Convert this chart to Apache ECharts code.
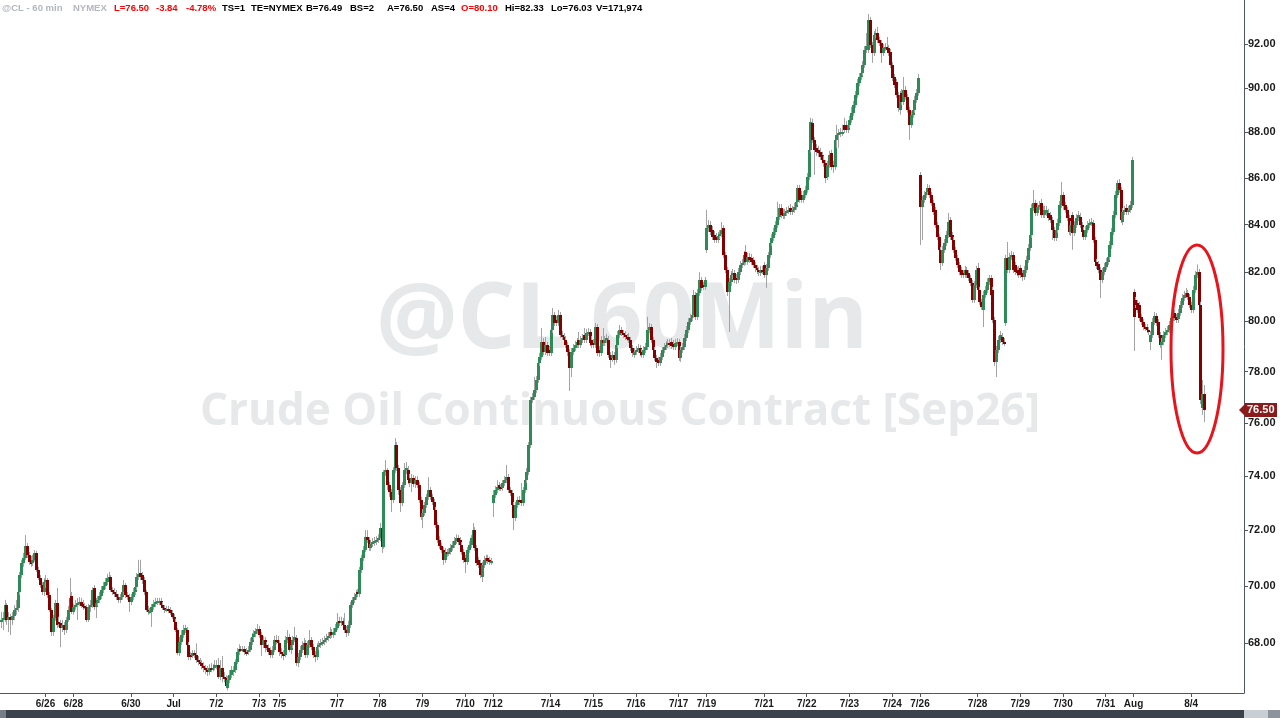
<!DOCTYPE html>
<html><head><meta charset="utf-8">
<script src="https://cdn.jsdelivr.net/npm/echarts@6/dist/echarts.min.js"></script>
<style>html,body{margin:0;padding:0;background:#fff;overflow:hidden}#c{width:1280px;height:718px}</style>
</head><body><div id="c"></div>
<script>
// ---- data (60-min bars of @CL) ----
const sessionDates  = ["6/24","6/25","6/26","6/28","6/29","6/30","7/1","7/2","7/3","7/5","7/6","7/7","7/8","7/9","7/10","7/12","7/13","7/14","7/15","7/16","7/17","7/19","7/20","7/21","7/22","7/23","7/24","7/26","7/27","7/28","7/29","7/30","7/31","8/2","8/3","8/4"];
const sessionBars   = [1,23,15,8,23,23,23,23,11,8,23,23,23,23,15,8,23,23,23,23,15,8,23,23,23,23,15,8,23,23,23,23,15,8,23,8];
const sessionLabels = ["","","6/26","6/28","","6/30","Jul","7/2","7/3","7/5","","7/7","7/8","7/9","7/10","7/12","","7/14","7/15","7/16","7/17","7/19","","7/21","7/22","7/23","7/24","7/26","","7/28","7/29","7/30","7/31","Aug","","8/4"];
const totalSlots = 670;
const yTicks = [68,70,72,74,76,78,80,82,84,86,88,90,92];
const yRange = [66.32, 94.08];

const O = [68.74,68.81,68.88,69.33,68.81,68.92,68.81,68.95,69.16,69.23,
69.79,70.39,70.82,71.00,71.43,71.11,70.86,70.82,70.93,71.18,
70.57,70.28,70.03,69.79,70.14,70.21,69.68,69.16,68.39,68.88,
69.40,68.74,68.71,68.53,68.64,68.46,68.81,69.16,69.65,69.09,
69.26,69.33,69.40,69.44,69.37,69.30,69.26,68.81,69.26,69.33,
69.93,69.26,69.40,69.51,69.65,69.86,70.00,70.14,70.28,70.32,
69.86,69.79,69.72,69.61,69.51,69.61,69.79,70.03,69.68,69.61,
69.44,69.61,69.79,69.96,70.32,70.46,70.39,70.21,69.79,69.16,
69.09,69.09,69.26,69.37,69.44,69.46,69.47,69.33,69.23,69.16,
69.19,69.16,69.05,68.92,68.74,68.46,67.67,68.05,68.29,68.46,
68.46,67.94,67.60,67.57,67.67,67.60,67.43,67.36,67.33,67.23,
67.16,67.09,67.02,67.16,67.14,67.16,67.26,67.26,66.85,67.16,
66.85,66.82,66.48,66.75,66.92,67.09,67.10,67.36,67.70,67.80,
67.77,67.80,67.70,67.69,67.77,68.05,68.22,68.33,68.43,68.50,
68.29,67.94,68.12,67.94,67.84,67.77,67.60,67.77,68.12,68.11,
68.01,67.70,67.63,67.60,68.12,68.22,67.77,67.94,68.12,68.19,
67.33,67.53,67.77,67.94,68.01,67.60,67.94,68.12,67.87,67.60,
67.53,67.87,67.94,68.01,68.05,68.12,68.19,68.26,68.39,68.29,
68.39,68.53,68.78,68.71,68.78,68.64,68.46,68.36,68.64,69.33,
69.51,69.61,69.79,69.72,70.57,71.00,71.28,71.75,71.64,71.35,
71.50,71.57,71.60,71.64,71.71,72.07,71.39,74.14,74.22,73.66,
73.40,73.11,74.22,75.16,74.29,73.47,72.99,73.66,74.22,74.22,
73.92,73.73,73.92,73.69,73.84,73.66,73.11,72.48,72.63,72.92,
73.22,73.47,73.22,73.03,72.74,72.18,71.64,71.43,71.28,70.93,
71.21,71.14,71.21,71.35,71.46,71.60,71.71,71.64,71.46,71.21,
71.00,70.86,71.28,71.46,71.71,72.00,71.35,70.93,70.82,70.32,
70.75,70.93,71.00,70.93,70.86,72.99,73.29,73.47,73.66,73.58,
73.55,73.73,73.84,73.95,73.47,73.36,72.92,72.44,72.92,73.11,
73.11,72.99,73.47,73.84,74.14,75.16,76.89,77.01,77.28,77.67,
78.34,78.58,79.17,78.77,79.05,78.85,78.73,79.65,80.26,80.05,
79.93,80.26,79.45,79.37,79.25,79.05,78.77,78.14,78.77,78.93,
79.05,79.25,79.05,79.25,79.45,79.25,79.53,79.57,79.25,79.13,
79.05,79.77,78.85,78.73,79.25,79.13,79.25,79.25,78.65,78.54,
78.65,78.46,79.05,79.45,79.65,79.53,79.45,79.37,79.37,79.25,
78.93,78.65,78.77,78.85,78.93,78.77,78.65,78.85,78.97,79.65,
79.77,79.25,78.85,78.54,78.46,78.34,78.58,78.85,78.97,79.05,
79.13,79.17,79.09,78.97,79.13,79.17,78.54,78.85,78.97,79.33,
79.65,79.97,80.13,80.26,81.07,80.18,81.15,81.69,81.48,81.40,
82.94,83.86,83.98,83.77,83.56,83.48,83.35,83.52,83.60,83.86,
82.73,82.10,81.19,81.60,81.89,81.97,81.77,81.69,82.01,82.31,
82.39,82.85,82.43,82.64,82.60,82.52,82.31,82.18,82.10,81.97,
82.10,82.31,81.89,82.18,82.73,83.23,83.44,83.69,83.98,84.32,
84.71,84.50,84.37,84.50,84.58,84.71,84.54,84.63,84.75,84.97,
85.57,85.27,85.06,85.27,85.48,86.04,87.23,88.43,87.67,87.32,
87.23,87.14,87.01,86.79,86.66,86.04,86.57,87.10,86.57,86.48,
87.67,87.89,87.97,87.97,88.34,88.34,88.11,88.34,88.56,88.88,
89.23,89.68,90.22,90.50,90.68,91.05,91.74,91.74,93.14,91.97,
91.60,92.44,92.53,92.20,92.06,91.60,91.83,91.88,91.83,91.65,
91.05,90.50,90.27,89.68,89.01,89.77,89.37,89.91,89.59,89.01,
88.34,88.79,89.01,89.46,89.77,86.13,84.76,85.06,85.27,85.40,
85.57,85.27,84.93,84.63,83.98,83.48,82.94,82.39,82.94,83.23,
83.56,84.20,83.56,83.35,82.94,82.60,82.31,82.10,81.97,81.89,
82.10,81.97,81.77,81.56,80.87,81.48,82.18,81.28,80.79,80.46,
81.07,81.28,81.60,81.77,81.28,80.05,78.38,78.85,79.25,79.37,
79.17,79.93,82.60,82.10,82.64,82.73,82.31,82.10,82.10,82.18,
81.97,81.81,82.10,82.52,83.02,83.56,84.71,84.93,84.50,84.75,
84.93,84.63,84.41,84.50,84.50,84.41,84.20,83.77,83.44,83.77,
84.07,84.84,85.27,84.84,84.63,84.28,83.69,84.41,83.65,83.98,
84.28,84.32,83.98,83.77,83.48,83.77,83.98,84.07,84.07,83.35,
82.43,82.35,82.10,81.69,82.01,82.23,82.43,82.64,83.14,83.69,
84.41,85.27,85.78,85.48,84.11,84.54,84.71,84.54,84.63,84.84,
81.19,80.87,80.75,80.67,80.18,79.97,79.77,79.77,79.65,79.17,
79.45,79.97,80.22,79.97,79.45,79.05,79.17,79.45,79.57,79.65,
79.85,80.13,80.34,80.18,80.10,80.34,80.67,80.95,81.07,81.15,
80.99,80.67,80.46,81.28,81.89,82.01,80.67,76.58,77.12];

const C = [68.81,68.88,69.33,68.81,68.92,68.81,68.95,69.16,69.23,69.79,
70.39,70.82,71.00,71.43,71.11,70.86,70.82,70.93,71.18,70.57,
70.28,70.03,69.79,70.14,70.21,69.68,69.16,68.39,68.88,69.40,
68.64,68.71,68.53,68.64,68.46,68.81,69.16,69.58,69.09,69.26,
69.33,69.40,69.44,69.30,69.26,69.26,68.81,69.26,69.33,69.86,
69.26,69.40,69.51,69.65,69.86,70.00,70.14,70.28,70.32,69.86,
69.79,69.72,69.61,69.51,69.61,69.79,70.03,69.68,69.61,69.44,
69.61,69.79,69.96,70.32,70.43,70.32,70.21,69.79,69.16,69.09,
69.12,69.26,69.37,69.44,69.46,69.47,69.33,69.23,69.16,69.19,
69.16,69.05,68.92,68.74,68.46,67.67,68.05,68.29,68.46,68.53,
67.94,67.53,67.57,67.67,67.60,67.43,67.36,67.33,67.23,67.16,
67.09,67.02,67.16,67.14,67.16,67.26,67.27,66.85,67.16,66.85,
66.82,66.55,66.75,66.92,67.09,67.10,67.36,67.70,67.80,67.77,
67.80,67.70,67.69,67.77,68.05,68.22,68.33,68.43,68.50,68.29,
67.94,68.12,67.84,67.84,67.70,67.60,67.77,68.12,68.11,68.01,
67.70,67.63,67.60,68.12,68.22,67.77,67.94,68.12,68.22,67.33,
67.53,67.77,67.94,68.01,67.60,67.94,68.12,67.87,67.60,67.53,
67.87,67.94,68.01,68.05,68.12,68.19,68.26,68.39,68.29,68.39,
68.53,68.74,68.71,68.78,68.64,68.46,68.36,68.64,69.33,69.51,
69.61,69.72,69.72,70.57,71.00,71.28,71.75,71.64,71.35,71.50,
71.57,71.60,71.64,71.71,72.07,71.39,74.14,74.22,73.66,73.40,
73.11,74.22,75.16,74.29,73.47,72.99,73.66,74.22,74.29,73.84,
73.73,73.92,73.69,73.84,73.66,73.11,72.48,72.63,72.92,73.22,
73.47,73.22,73.03,72.74,72.18,71.64,71.43,71.28,70.93,71.21,
71.14,71.21,71.35,71.46,71.60,71.71,71.57,71.46,71.21,70.93,
70.86,71.28,71.46,71.71,72.00,71.35,70.82,70.75,70.39,70.75,
70.93,71.00,70.89,70.86,70.89,73.29,73.47,73.58,73.55,73.55,
73.73,73.84,73.95,73.47,73.36,72.92,72.44,72.92,73.11,73.03,
72.99,73.47,73.84,74.14,75.16,76.89,77.01,77.28,77.67,78.34,
78.58,79.17,78.77,79.05,78.73,78.73,79.65,80.26,79.93,79.93,
80.26,79.45,79.37,79.25,79.05,78.77,78.14,78.77,78.93,79.05,
79.17,79.05,79.25,79.33,79.25,79.53,79.57,79.13,79.05,79.05,
79.77,78.73,78.73,79.25,79.13,79.25,79.33,78.65,78.46,78.65,
78.46,79.05,79.45,79.65,79.53,79.45,79.37,79.33,79.25,78.93,
78.73,78.77,78.85,78.93,78.73,78.65,78.85,78.97,79.65,79.77,
79.25,78.85,78.54,78.38,78.34,78.58,78.85,78.97,79.05,79.13,
79.12,79.01,78.97,79.13,79.17,78.54,78.85,78.97,79.33,79.65,
79.97,80.13,80.26,81.07,80.18,81.15,81.69,81.36,81.40,81.69,
83.86,83.98,83.69,83.48,83.35,83.35,83.52,83.60,83.77,82.73,
82.10,81.19,81.60,81.89,81.97,81.69,81.69,82.01,82.31,82.39,
82.73,82.43,82.64,82.52,82.43,82.31,82.18,82.10,82.01,82.10,
82.09,81.89,82.18,82.73,83.23,83.44,83.69,83.98,84.32,84.71,
84.41,84.37,84.50,84.58,84.63,84.54,84.63,84.75,84.97,85.57,
85.06,85.06,85.27,85.48,86.04,87.23,88.47,87.67,87.23,87.14,
87.10,86.92,86.79,86.66,86.00,86.57,87.01,86.48,86.48,87.67,
87.89,87.97,88.02,88.02,88.11,88.11,88.34,88.56,88.88,89.23,
89.68,90.22,90.50,90.68,91.05,91.74,91.92,93.14,91.97,91.60,
92.44,92.53,92.20,92.06,91.60,91.83,91.88,91.74,91.60,91.05,
90.45,90.13,89.68,89.10,89.68,89.37,89.91,89.59,89.01,88.34,
88.79,89.01,89.46,89.77,90.45,84.76,85.06,85.27,85.40,85.57,
85.27,84.93,84.54,83.98,83.48,82.94,82.39,82.94,83.23,83.56,
84.11,83.48,83.35,82.94,82.60,82.31,82.01,81.89,81.89,82.10,
81.89,81.77,81.56,80.87,81.48,82.10,81.28,80.79,80.58,81.07,
81.28,81.60,81.77,81.07,80.05,78.38,78.85,79.25,79.45,79.17,
79.16,82.60,82.10,82.64,82.73,82.10,82.01,81.97,81.89,81.89,
81.81,82.10,82.52,83.02,83.56,84.71,84.93,84.50,84.75,84.84,
84.41,84.41,84.63,84.63,84.28,84.20,83.77,83.44,83.77,84.07,
84.84,85.27,84.80,84.63,84.28,83.69,83.98,83.65,83.98,84.28,
84.41,83.98,83.69,83.48,83.77,83.98,84.07,84.11,83.35,82.43,
82.27,82.10,81.69,82.01,82.23,82.43,82.64,83.14,83.69,84.41,
85.27,85.78,85.48,84.20,84.54,84.63,84.54,84.63,84.84,86.79,
80.18,80.67,80.46,80.13,79.97,79.77,79.73,79.65,79.57,79.45,
79.97,80.22,79.93,79.45,79.05,79.17,79.45,79.57,79.65,79.85,
80.13,80.30,80.13,80.05,80.34,80.67,80.95,81.07,81.15,80.99,
80.67,80.46,81.28,81.89,82.01,80.67,76.89,77.12,76.50];

const H = [69.09,69.09,69.51,69.40,69.09,69.02,69.09,69.33,69.51,69.86,
70.50,70.93,71.18,71.82,71.53,71.21,71.07,71.11,71.28,71.25,
70.68,70.39,70.14,70.28,70.39,70.28,69.79,69.23,68.99,69.51,
69.93,68.92,68.81,68.81,68.74,68.92,69.30,70.28,69.79,69.37,
69.51,69.58,69.61,69.58,69.51,69.40,69.33,69.37,69.51,69.96,
70.03,69.58,69.65,69.79,70.00,70.14,70.28,70.43,70.50,70.39,
69.96,69.93,69.86,69.72,69.72,69.93,70.21,70.10,69.79,69.72,
69.72,69.93,70.10,70.46,70.93,70.93,70.50,70.32,69.86,69.30,
69.23,69.37,69.51,69.58,69.58,69.58,69.58,69.44,69.33,69.30,
69.30,69.26,69.16,69.02,68.85,68.53,68.22,68.46,68.64,68.64,
68.57,68.05,67.70,67.77,67.77,68.00,67.57,67.50,67.43,67.36,
67.26,67.23,67.29,67.33,67.29,67.43,67.43,67.50,67.43,67.57,
67.02,66.92,66.89,67.09,67.23,67.23,67.46,67.84,67.97,67.91,
67.91,67.91,67.84,67.91,68.19,68.36,68.46,68.53,68.67,68.60,
68.39,68.26,68.22,68.05,67.97,67.87,67.91,68.26,68.29,68.26,
68.12,67.84,67.77,68.26,68.46,68.33,68.05,68.26,68.57,68.29,
67.67,67.91,68.08,68.19,68.12,68.08,68.46,68.22,67.97,67.74,
68.01,68.08,68.15,68.19,68.26,68.33,68.39,68.57,68.50,68.53,
68.67,69.05,68.92,68.92,68.88,69.05,68.60,68.78,69.44,69.61,
69.75,69.86,69.89,70.68,71.11,71.43,72.00,72.00,71.75,71.64,
71.71,71.75,71.78,71.85,72.26,72.18,74.22,74.59,74.29,73.77,
73.51,74.33,75.42,75.27,74.41,73.58,73.77,74.48,74.52,74.37,
74.07,74.07,74.03,73.99,73.99,73.77,73.22,72.77,73.03,73.33,
73.95,73.58,73.33,73.14,72.85,72.29,71.78,71.53,71.39,71.35,
71.32,71.35,71.50,71.60,71.75,71.85,71.82,71.75,71.57,71.32,
71.11,71.39,71.60,71.82,72.26,72.11,71.46,71.04,70.93,70.86,
71.07,71.11,71.11,71.04,71.00,73.47,73.62,73.84,73.77,73.69,
73.84,73.99,74.41,74.07,73.58,73.47,73.03,73.03,73.22,73.25,
73.73,73.58,73.95,74.29,75.27,77.01,77.16,77.79,77.82,78.46,
78.73,79.73,79.33,79.37,79.17,79.01,79.77,80.54,80.38,80.22,
80.46,80.38,79.61,79.53,79.41,79.17,78.89,78.93,79.09,79.21,
79.33,79.57,79.41,79.49,79.73,79.69,79.73,79.69,79.41,79.29,
79.93,79.89,79.01,79.41,79.73,79.41,79.49,79.41,78.77,78.81,
78.77,79.17,79.61,79.85,79.77,79.65,79.61,79.49,79.53,79.37,
79.05,78.93,79.01,79.09,79.05,78.89,79.01,79.13,80.18,79.93,
79.89,79.37,78.97,78.65,78.58,78.73,78.97,79.13,79.21,79.29,
79.29,79.33,79.25,79.29,79.33,79.29,79.01,79.13,79.49,79.81,
80.13,80.30,80.42,81.28,81.19,81.32,82.01,81.81,81.60,81.81,
84.63,84.20,84.15,83.94,83.73,83.65,83.69,83.77,84.11,83.98,
82.85,82.23,81.77,82.06,82.14,82.10,81.93,82.18,82.48,82.56,
82.89,83.14,82.81,82.81,82.77,82.64,82.43,82.31,82.23,82.27,
82.27,82.43,82.35,82.85,83.35,83.60,83.86,84.15,84.97,84.88,
84.88,84.67,84.67,84.75,84.80,84.88,84.80,84.93,85.14,85.70,
85.70,85.44,85.44,85.66,86.22,87.41,88.65,88.61,87.80,87.49,
87.41,87.32,87.14,86.97,86.79,86.75,87.19,87.23,86.75,87.80,
88.34,88.15,88.20,88.34,88.65,88.52,88.52,88.74,89.14,89.41,
89.86,90.41,90.68,90.87,91.23,91.92,92.53,93.42,93.28,92.11,
92.62,92.72,92.81,92.34,92.20,92.01,92.06,92.34,91.97,91.78,
91.19,90.64,90.41,89.82,89.86,89.95,90.50,90.08,89.73,89.14,
88.97,89.19,89.64,89.95,90.64,86.26,85.23,85.44,85.57,85.74,
85.70,85.40,85.06,84.75,84.11,83.60,83.06,83.10,83.39,83.73,
84.50,84.32,83.69,83.48,83.06,82.73,82.43,82.23,82.10,82.27,
82.23,82.10,81.89,81.69,81.65,82.27,82.39,81.40,80.91,81.24,
81.44,81.77,81.89,81.89,81.40,80.18,79.01,79.41,79.61,79.53,
79.33,82.73,83.27,82.81,82.89,82.85,82.43,82.23,82.27,82.31,
82.10,82.27,82.69,83.18,83.73,84.88,85.48,85.06,84.93,85.01,
85.10,84.80,84.80,84.80,84.67,84.54,84.32,83.90,83.94,84.24,
85.01,85.83,85.40,84.97,84.75,84.41,84.15,84.54,84.15,84.45,
84.58,84.50,84.11,83.90,83.94,84.15,84.24,84.28,84.20,83.48,
82.56,82.48,82.23,82.18,82.39,82.60,82.81,83.31,83.86,84.58,
85.44,85.91,85.95,85.61,84.71,84.80,84.88,84.80,85.01,86.92,
81.32,80.99,80.87,80.79,80.30,80.09,79.89,79.89,79.77,79.61,
80.13,80.38,80.34,80.09,79.57,79.33,79.61,79.73,79.81,80.01,
80.30,80.75,80.46,80.30,80.50,80.83,81.11,81.24,81.36,81.28,
81.11,80.79,81.44,82.06,82.33,82.14,80.79,77.67,77.47];

const L = [68.53,68.46,68.74,68.64,68.39,68.29,68.64,68.81,68.99,69.09,
69.68,70.28,70.68,70.93,71.00,70.75,70.68,70.71,70.86,70.50,
70.21,69.93,69.68,69.65,69.93,69.58,69.09,68.26,68.26,68.78,
68.53,68.57,67.87,68.39,68.29,68.36,68.74,69.09,69.02,68.99,
69.16,68.81,69.30,69.23,69.16,69.19,68.74,68.74,69.09,69.23,
69.16,68.88,69.30,69.40,69.54,69.75,69.89,70.03,70.18,69.79,
69.68,69.61,69.51,69.40,69.40,69.51,69.68,69.58,69.51,69.09,
69.33,69.51,69.68,69.86,70.21,70.21,70.07,69.68,69.09,68.99,
69.02,68.57,69.16,69.26,69.33,69.33,69.26,69.16,69.05,69.09,
69.05,68.99,68.85,68.67,68.39,67.60,67.57,67.94,68.19,68.36,
67.84,67.43,67.43,67.50,67.50,67.33,67.26,67.23,67.12,67.02,
66.95,66.89,66.92,67.02,67.05,67.09,67.12,66.79,66.75,66.68,
66.68,66.48,66.41,66.65,66.82,66.89,66.99,67.29,67.60,67.70,
67.70,67.60,67.57,67.60,67.70,67.94,68.12,68.22,68.33,68.19,
67.57,67.84,67.70,67.77,67.60,67.50,67.50,67.70,67.97,67.91,
67.57,67.50,67.43,67.53,68.01,67.70,67.63,67.84,68.05,67.23,
67.19,67.43,67.67,67.84,67.50,67.50,67.84,67.77,67.50,67.36,
67.43,67.77,67.84,67.91,67.94,68.01,68.08,68.15,68.19,68.19,
68.29,68.46,68.60,68.60,68.53,68.36,68.22,68.26,68.53,69.23,
69.40,69.51,69.61,69.61,70.46,70.89,71.21,71.53,71.25,71.25,
71.39,71.43,71.46,71.53,71.60,71.18,71.32,74.00,73.47,73.22,
72.66,72.99,74.11,74.18,73.29,72.66,72.88,73.55,74.07,73.69,
73.58,73.40,73.58,73.55,73.55,72.99,72.37,72.07,72.52,72.81,
73.11,73.11,72.92,72.63,72.07,71.53,71.32,71.18,70.75,70.82,
71.04,71.07,71.11,71.25,71.35,71.50,71.46,71.35,71.11,70.82,
70.46,70.75,71.18,71.35,71.60,71.25,70.71,70.64,70.28,70.14,
70.64,70.82,70.78,70.75,70.75,72.48,73.18,73.36,73.44,73.44,
73.44,73.62,73.73,73.36,73.25,72.81,72.00,72.33,72.81,72.92,
72.88,72.88,73.36,73.73,74.03,75.04,76.77,76.89,77.16,77.55,
78.22,78.46,78.65,78.65,78.61,78.61,78.61,79.53,79.81,79.81,
79.81,79.33,79.25,79.13,78.93,78.61,77.24,77.78,78.65,78.81,
78.93,78.93,78.93,79.13,79.13,79.13,79.41,79.01,78.93,78.93,
78.93,78.61,78.58,78.61,79.01,79.01,79.13,78.54,78.14,78.38,
78.26,78.34,78.93,79.33,79.41,79.33,79.25,79.21,79.13,78.81,
78.58,78.54,78.65,78.73,78.61,78.54,78.54,78.73,78.85,79.53,
79.13,78.73,78.42,78.14,78.22,78.22,78.46,78.73,78.85,78.93,
78.97,78.89,78.85,78.85,79.01,78.42,78.38,78.73,78.85,79.21,
79.53,79.85,80.01,80.13,80.05,80.05,81.03,81.24,81.28,81.28,
82.81,83.69,83.56,83.35,83.23,83.23,83.23,83.39,83.48,82.60,
81.97,81.03,79.57,81.44,81.73,81.56,81.52,81.56,81.89,82.18,
82.27,82.31,82.31,82.39,82.31,82.18,82.01,81.93,81.85,81.85,
81.93,81.77,81.36,82.06,82.60,83.10,83.31,83.56,83.86,84.20,
84.28,84.24,84.24,84.37,84.45,84.41,84.41,84.50,84.63,84.84,
84.93,84.93,84.93,85.14,85.36,85.91,87.10,87.54,86.13,86.97,
86.92,86.79,86.66,86.48,85.78,85.91,86.44,86.35,86.22,86.35,
87.32,87.32,87.80,87.84,87.97,87.97,87.97,88.20,88.43,88.74,
89.10,89.55,90.08,90.36,90.55,90.91,91.60,91.60,91.83,91.14,
91.46,92.29,92.06,91.92,91.14,91.46,91.69,91.60,91.46,90.91,
90.31,89.99,89.55,88.92,88.79,89.23,89.23,89.46,88.88,87.67,
88.20,88.65,88.88,89.32,89.64,83.14,83.35,84.93,85.14,85.27,
85.14,84.80,84.41,83.86,83.35,82.81,82.10,82.27,82.81,83.10,
83.44,83.35,83.23,82.81,82.48,82.18,81.89,81.77,81.77,81.77,
81.77,81.65,81.44,80.75,80.75,81.36,81.15,80.67,80.46,79.77,
80.95,81.15,81.48,80.95,79.93,78.22,77.78,78.73,79.13,79.05,
79.01,79.81,81.97,81.97,82.52,81.97,81.89,81.85,81.77,81.77,
81.65,81.69,81.97,82.39,82.89,83.44,84.58,84.37,84.37,84.63,
84.28,84.28,84.28,84.37,84.15,84.07,83.35,83.31,83.31,83.65,
83.94,84.71,84.63,84.50,84.15,83.56,83.52,82.94,83.52,83.86,
84.15,83.86,83.56,83.35,83.35,83.65,83.86,83.94,83.23,82.31,
82.14,81.97,80.95,81.56,81.89,82.10,82.31,82.52,82.98,83.56,
84.28,85.14,85.36,84.07,83.98,84.41,84.41,84.41,84.50,84.71,
78.81,80.54,80.34,80.01,79.85,79.65,79.61,79.53,79.45,78.85,
79.33,79.85,79.81,79.33,78.93,78.46,79.05,79.33,79.45,79.53,
79.73,80.01,80.01,79.93,79.93,80.22,80.54,80.83,80.95,80.87,
80.54,80.34,80.34,81.15,81.77,80.54,76.73,76.31,76.03];

// ---- build categories (one per 60-min bar) ----
const categories = [];
const labelAt = {};
sessionDates.forEach((d, s) => {
  for (let k = 0; k < sessionBars[s]; k++) {
    if (k === 0 && sessionLabels[s]) labelAt[categories.length] = sessionLabels[s];
    categories.push(d + ' #' + k);
  }
});
while (categories.length < totalSlots) categories.push('pad' + categories.length);

const seriesData = O.map((o, i) => [i, Math.log(o), Math.log(C[i]), Math.log(L[i]), Math.log(H[i])]);

const UP = '#2e8b57', DOWN = '#850000', WICK = '#a3a3a3', AXIS = '#4b5863';

const chart = echarts.init(document.getElementById('c'), null, {renderer: 'canvas'});

function renderItem(params, api) {
  const i = api.value(0);
  const pO = api.coord([i, api.value(1)]);
  const pC = api.coord([i, api.value(2)]);
  const pL = api.coord([i, api.value(3)]);
  const pH = api.coord([i, api.value(4)]);
  const xc = Math.round(pO[0]);
  const up = api.value(2) >= api.value(1);
  const top = Math.round(Math.min(pO[1], pC[1]));
  const bot = Math.round(Math.max(pO[1], pC[1]));
  return {
    type: 'group',
    children: [
      {type: 'line', shape: {x1: xc + 0.5, y1: pH[1], x2: xc + 0.5, y2: pL[1]}, style: {stroke: WICK, lineWidth: 1}},
      {type: 'rect', shape: {x: xc - 1, y: top, width: 3, height: Math.max(2, bot - top)}, style: {fill: up ? UP : DOWN}}
    ]
  };
}

const hdrFont = 'bold 9.5px "Liberation Sans", Arial, sans-serif';
const header = [
  ['@CL - 60 min', 2, '#b3b7bf'], ['NYMEX', 73, '#b3b7bf'],
  ['L=76.50', 114, '#ff0000'], ['-3.84', 156, '#ff0000'], ['-4.78%', 186, '#ff0000'],
  ['TS=1', 222, '#000'], ['TE=NYMEX', 251, '#000'], ['B=76.49', 306, '#000'], ['BS=2', 350, '#000'],
  ['A=76.50', 387, '#000'], ['AS=4', 431, '#000'], ['O=80.10', 461, '#ff0000'],
  ['Hi=82.33', 505, '#000'], ['Lo=76.03', 551, '#000'], ['V=171,974', 596, '#000']
];

const graphics = [
  {type: 'text', x: 622, y: 322, z: -10, style: {text: '@CL 60Min', font: 'bold 91px "Open Sans", sans-serif', fill: '#e7e8ea', textAlign: 'center', textVerticalAlign: 'middle', align: 'center', verticalAlign: 'middle'}},
  {type: 'text', x: 620, y: 412, z: -10, style: {text: 'Crude Oil Continuous Contract [Sep26]', font: 'bold 44px "Open Sans", sans-serif', fill: '#e7e8ea', textAlign: 'center', textVerticalAlign: 'middle', align: 'center', verticalAlign: 'middle'}},
  {type: 'rect', shape: {x: 0, y: 710, width: 1244, height: 8}, style: {fill: '#3b424b'}, z: 50},
  {type: 'rect', shape: {x: 0, y: 710, width: 6, height: 8}, style: {fill: '#767d87'}, z: 51},
  {type: 'rect', shape: {x: 1244, y: 710, width: 24, height: 8}, style: {fill: '#c9cdd4'}, z: 50},
  {type: 'rect', shape: {x: 1268, y: 710, width: 12, height: 8}, style: {fill: '#8e949d'}, z: 50},
  {type: 'ellipse', shape: {cx: 1197, cy: 349, rx: 26, ry: 104}, style: {fill: 'none', stroke: '#e8141c', lineWidth: 3}, z: 100}
];
header.forEach(([t, x, col]) => graphics.push({type: 'text', x: x, y: 8, z: 60, style: {text: t, font: hdrFont, fill: col, textVerticalAlign: 'middle', verticalAlign: 'middle'}}));

chart.setOption({
  animation: false,
  backgroundColor: '#ffffff',
  grid: {left: 0, right: 36, top: 0, bottom: 25, containLabel: false},
  xAxis: {
    type: 'category', data: categories, boundaryGap: true,
    axisLine: {show: true, lineStyle: {color: AXIS, width: 1}},
    axisTick: {show: true, alignWithLabel: true, length: 4, interval: (i) => labelAt[i] !== undefined, lineStyle: {color: AXIS}},
    axisLabel: {show: true, interval: (i) => labelAt[i] !== undefined, formatter: (v, i) => labelAt[i] || '', color: '#1b1b1b', fontSize: 10, fontWeight: 'bold', fontFamily: '"Liberation Sans", Arial, sans-serif', margin: 6},
    splitLine: {show: false}
  },
  yAxis: {
    type: 'value', position: 'right',
    min: Math.log(yRange[0]), max: Math.log(yRange[1]),
    axisLine: {show: true, lineStyle: {color: AXIS, width: 1}},
    axisTick: {show: true, length: 4, customValues: yTicks.map(Math.log), lineStyle: {color: AXIS}},
    axisLabel: {show: true, customValues: yTicks.map(Math.log), formatter: (v) => Math.exp(v).toFixed(2), color: '#1b1b1b', fontSize: 11, fontWeight: 'bold', fontFamily: '"Liberation Sans", Arial, sans-serif', margin: 4},
    splitLine: {show: false}
  },
  series: [{
    type: 'custom', name: '@CL', renderItem: renderItem,
    encode: {x: 0, y: [1, 2, 3, 4]},
    data: seriesData, clip: true, z: 5
  }],
  graphic: graphics
});

// last-price marker on the price axis
const last = C[C.length - 1];
const py = chart.convertToPixel({yAxisIndex: 0}, Math.log(last));
chart.setOption({graphic: graphics.concat([
  {type: 'polygon', shape: {points: [[1239, py], [1245, py - 6], [1245, py + 6]]}, style: {fill: '#8b1a1a'}, z: 110},
  {type: 'rect', shape: {x: 1245, y: py - 7, width: 32, height: 14}, style: {fill: '#8b1a1a'}, z: 110},
  {type: 'text', x: 1247, y: py, z: 111, style: {text: last.toFixed(2), font: 'bold 11px "Liberation Sans", Arial, sans-serif', fill: '#ffffff', textVerticalAlign: 'middle', verticalAlign: 'middle'}}
])});
</script>
</body></html>
